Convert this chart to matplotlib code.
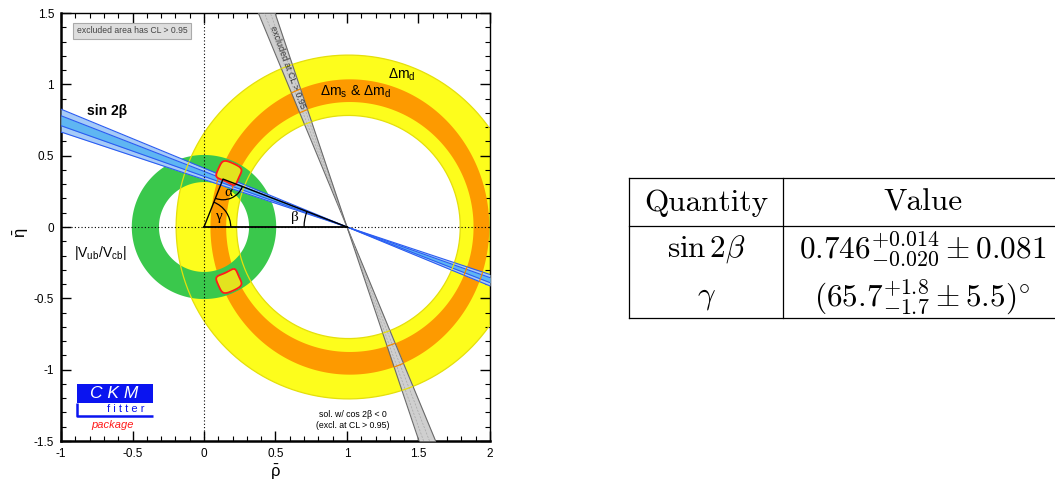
import numpy as np
import matplotlib.pyplot as plt
from matplotlib.patches import PathPatch, Arc, Rectangle
from matplotlib.path import Path
from matplotlib.lines import Line2D
from matplotlib.ticker import MultipleLocator, FuncFormatter

plt.rcParams['font.family'] = ['Liberation Sans', 'DejaVu Sans']
plt.rcParams['mathtext.fontset'] = 'custom'
plt.rcParams['mathtext.rm'] = 'Liberation Sans'
plt.rcParams['mathtext.it'] = 'Liberation Sans:italic'
plt.rcParams['mathtext.bf'] = 'Liberation Sans:bold'
plt.rcParams['axes.unicode_minus'] = False

# constraints in the (rho, eta) plane
dmd_center = (1.01, 0.0)
dmd_radii = (0.782, 1.205)          # Delta m_d ring, inner / outer radius
dms_center = (1.02, 0.0)
dms_inner = (0.865, 0.876)          # Delta m_s & Delta m_d ring, semi-axes
dms_outer = (0.975, 1.035)
vub_radii = (0.315, 0.505)          # |Vub/Vcb| ring around the origin
sin2b_slopes = [0.333, 0.355, 0.39, 0.413]   # outer, inner, inner, outer
cos2b_slopes = [2.42, 2.6, 2.8, 2.98]
apex = (0.133, 0.336)
fit_dms = (0.928, 0.078)            # fit region: centre / half width
fit_vub = (0.422, 0.068)

# summary table
table_header = ['Quantity', 'Value']
table_quantity = [r'$\sin 2\beta$', r'$\gamma$']
table_value = [r'$0.746^{+0.014}_{-0.020} \pm 0.081$',
               r'$(65.7^{+1.8}_{-1.7} \pm 5.5)^{\circ}$']

YELLOW, YEDGE = '#fdfd1c', '#e4df0c'
ORANGE = '#fd9a00'
GREEN = '#3ac84c'
BLUE_OUT, BLUE_IN, BLUE_LINE = '#a6cbf8', '#5fb6f2', '#2a5cf2'
GREY_FILL, GREY_LINE = '#cfcfcf', '#6a6a6a'


def ellipse(center, axes, n=500):
    t = np.linspace(0, 2 * np.pi, n)
    return center[0] + axes[0] * np.cos(t), center[1] + axes[1] * np.sin(t)


def ring_path(center, inner, outer, n=500):
    xo, yo = ellipse(center, outer, n)
    xi, yi = ellipse(center, inner, n)
    verts = np.vstack([np.column_stack([xo, yo]),
                       np.column_stack([xi[::-1], yi[::-1]])])
    codes = ([Path.MOVETO] + [Path.LINETO] * (n - 1)) * 2
    return Path(verts, codes)


fig = plt.figure(figsize=(10.55, 4.93), dpi=100)
ax = fig.add_axes([61 / 1055, 52 / 493, 429 / 1055, 428 / 493])
ax.set_xlim(-1, 2)
ax.set_ylim(-1.5, 1.5)

# rings
ax.add_patch(PathPatch(ring_path(dmd_center, (dmd_radii[0],) * 2, (dmd_radii[1],) * 2),
                       fc=YELLOW, ec='none', zorder=1))
ax.add_patch(PathPatch(ring_path(dms_center, dms_inner, dms_outer),
                       fc=ORANGE, ec='none', zorder=2))
ax.add_patch(PathPatch(ring_path((0, 0), (vub_radii[0],) * 2, (vub_radii[1],) * 2),
                       fc=GREEN, ec='none', zorder=3))
for r in dmd_radii:
    ax.plot(*ellipse(dmd_center, (r, r)), color=YEDGE, lw=0.9, zorder=4)

# sin 2beta band
xs = np.array([-1.0, 2.0])
blue = ax.fill_between(xs, -sin2b_slopes[0] * (xs - 1), -sin2b_slopes[3] * (xs - 1),
                       color=BLUE_OUT, lw=0, zorder=5)
ax.fill_between(xs, -sin2b_slopes[1] * (xs - 1), -sin2b_slopes[2] * (xs - 1),
                color=BLUE_IN, lw=0, zorder=5)
for s in sin2b_slopes:
    ax.plot(xs, -s * (xs - 1), color=BLUE_LINE, lw=0.8, zorder=5.5)

# cos 2beta < 0 solution
ys = np.array([-1.5, 1.5])
grey = ax.fill_betweenx(ys, 1 - ys / cos2b_slopes[0], 1 - ys / cos2b_slopes[3],
                        color=GREY_FILL, lw=0, zorder=5)
for i, s in enumerate(cos2b_slopes):
    if i in (0, 3):
        ax.plot(1 - ys / s, ys, color=GREY_LINE, lw=0.8, zorder=5.5)
    else:
        ax.plot(1 - ys / s, ys, color='#a8a8a8', lw=0.5, ls=(0, (3, 2)), zorder=5.5)

# ring edges seen through the bands
for band in (blue, grey):
    clip = band.get_paths()[0]
    for r in dmd_radii:
        ln, = ax.plot(*ellipse(dmd_center, (r, r)), color=YEDGE, lw=0.9, zorder=6)
        ln.set_clip_path(clip, ax.transData)
    for axs in (dms_inner, dms_outer):
        ln, = ax.plot(*ellipse(dms_center, axs), color='#f08a00', lw=0.9, zorder=6)
        ln.set_clip_path(clip, ax.transData)

# fit region
gx, gy = np.meshgrid(np.linspace(-0.2, 0.6, 400), np.linspace(-0.7, 0.7, 700))
u = (np.hypot(gx - dms_center[0], gy) - fit_dms[0]) / fit_dms[1]
v = (np.hypot(gx, gy) - fit_vub[0]) / fit_vub[1]
g = (np.abs(u) ** 5 + np.abs(v) ** 5) ** 0.2
ax.contourf(gx, gy, g, levels=[0, 1], colors=['#e3e31f'], zorder=7)
ax.contour(gx, gy, g, levels=[1], colors=['#ff1a1a'], linewidths=1.3, zorder=7.5)

# axes through the origin
ax.axhline(0, color='k', lw=0.8, ls=(0, (1, 2)), zorder=8)
ax.axvline(0, color='k', lw=0.8, ls=(0, (1, 2)), zorder=8)

# unitarity triangle
ax.plot([0, 1], [0, 0], color='k', lw=1.3, zorder=9)
ax.plot([0, apex[0], 1], [0, apex[1], 0], color='k', lw=1.0, zorder=9)
gam = np.degrees(np.arctan2(apex[1], apex[0]))
bet = np.degrees(np.arctan2(apex[1], 1 - apex[0]))
ax.add_patch(Arc((0, 0), 0.374, 0.374, theta1=0, theta2=gam, color='k', lw=0.9, zorder=9))
ax.add_patch(Arc(apex, 0.29, 0.29, theta1=180 + gam, theta2=360 - bet, color='k', lw=0.9, zorder=9))
ax.add_patch(Arc((1, 0), 0.6, 0.6, theta1=180 - bet, theta2=180, color='k', lw=0.9, zorder=9))
greek = dict(family=['Liberation Serif', 'DejaVu Serif'], fontsize=11, ha='center', va='center', zorder=10)
ax.text(0.105, 0.075, 'γ', **greek)
ax.text(0.17, 0.24, 'α', **greek)
ax.text(0.636, 0.065, 'β', **greek)

# labels
ax.text(-0.82, 0.81, 'sin 2β', fontsize=10, fontweight='bold', ha='left', va='center', zorder=10)
ax.text(-0.91, -0.18, r'$\mathregular{|V_{ub}/V_{cb}|}$', fontsize=10, ha='left', va='center', zorder=10)
ax.text(1.29, 1.07, r'$\mathregular{\Delta m_d}$', fontsize=10, ha='left', va='center', zorder=10)
ax.text(0.81, 0.95, r'$\mathregular{\Delta m_s}$ & $\mathregular{\Delta m_d}$', fontsize=10,
        ha='left', va='center', zorder=10)
ang = -np.degrees(np.arctan(np.mean(cos2b_slopes)))
ax.text(0.585, 1.12, 'excluded at CL > 0.95', fontsize=6.5, rotation=ang, rotation_mode='anchor',
        ha='center', va='center', color='#333333', zorder=10)
ax.text(1.04, -1.35, 'sol. w/ cos 2β < 0\n(excl. at CL > 0.95)', fontsize=6.3,
        ha='center', va='center', linespacing=1.3, zorder=10)
ax.text(0.037, 0.958, 'excluded area has CL > 0.95', transform=ax.transAxes, fontsize=6.2,
        ha='left', va='center', color='#444444', zorder=10,
        bbox=dict(boxstyle='square,pad=0.4', fc='#dedede', ec='#aaaaaa', lw=0.8))

# CKMfitter logo
ax.add_patch(Rectangle((0.037, 0.0888), 0.177, 0.0445, transform=ax.transAxes,
                       fc='#0a14f0', ec='none', zorder=10))
ax.plot([0.038, 0.038, 0.214], [0.0888, 0.0595, 0.0595], transform=ax.transAxes,
        color='#0a14f0', lw=1.8, zorder=10, solid_capstyle='butt')
ax.text(0.125, 0.111, 'C K M', transform=ax.transAxes, fontsize=12.5, style='italic',
        color='white', ha='center', va='center', zorder=11)
ax.text(0.152, 0.074, 'f i t t e r', transform=ax.transAxes, fontsize=8,
        color='#0a14f0', ha='center', va='center', zorder=11)
ax.text(0.12, 0.038, 'package', transform=ax.transAxes, fontsize=8, style='italic',
        color='#ff1a1a', ha='center', va='center', zorder=11)

# ticks and frame
fmt = FuncFormatter(lambda v, p: '%g' % v)
ax.xaxis.set_major_locator(MultipleLocator(0.5))
ax.yaxis.set_major_locator(MultipleLocator(0.5))
ax.xaxis.set_minor_locator(MultipleLocator(0.1))
ax.yaxis.set_minor_locator(MultipleLocator(0.1))
ax.xaxis.set_major_formatter(fmt)
ax.yaxis.set_major_formatter(fmt)
ax.tick_params(which='both', direction='in', top=True, right=True, labelsize=8.5, pad=5)
ax.tick_params(which='major', length=7, width=1.0)
ax.tick_params(which='minor', length=3.5, width=0.8)
for side in ('left', 'bottom'):
    ax.spines[side].set_linewidth(1.8)
for side in ('top', 'right'):
    ax.spines[side].set_linewidth(1.0)
ax.set_xlabel(r'$\mathregular{\bar{\rho}}$', fontsize=12)
ax.set_ylabel(r'$\mathregular{\bar{\eta}}$', fontsize=12)
ax.xaxis.set_label_coords(0.5, -0.05)
ax.yaxis.set_label_coords(-0.07, 0.486)

# results table
W, H = 1055.0, 493.0
col_x = [629, 783, 1062]
row_y = [178, 226, 318]


def hline(y):
    fig.add_artist(Line2D([col_x[0] / W, col_x[2] / W], [1 - y / H] * 2, color='k', lw=0.9))


for y in row_y:
    hline(y)
for x in col_x[:2]:
    fig.add_artist(Line2D([x / W] * 2, [1 - row_y[0] / H, 1 - row_y[2] / H], color='k', lw=0.9))

cx = [(col_x[0] + col_x[1]) / 2 / W, (col_x[1] + col_x[2]) / 2 / W]
for i, h in enumerate(table_header):
    fig.text(cx[i], 1 - 203 / H, h, family='cmr10', fontsize=22.5, ha='center', va='center')
for j, y in enumerate([249, 297]):
    fig.text(cx[0], 1 - y / H, table_quantity[j], math_fontfamily='cm', fontsize=22.5,
             ha='center', va='center')
    fig.text(cx[1], 1 - y / H, table_value[j], math_fontfamily='cm', fontsize=22.5,
             ha='center', va='center')

fig.savefig('out.png', dpi=100)
